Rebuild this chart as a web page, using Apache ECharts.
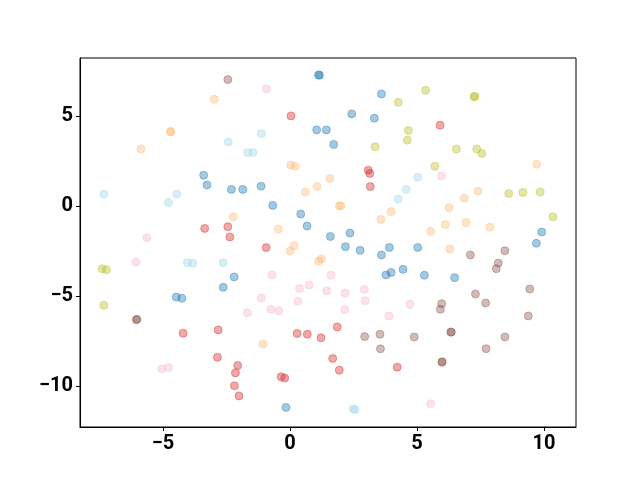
<!DOCTYPE html>
<html>
<head>
<meta charset="utf-8">
<script src="https://cdn.jsdelivr.net/npm/echarts@6/dist/echarts.min.js"></script>
<style>html,body{margin:0;padding:0;background:#fff}#c{width:640px;height:480px}</style>
</head>
<body>
<div id="c"></div>
<script>
const xTicks = [-5, 0, 5, 10];
const yTicks = [-10, -5, 0, 5];

const blue = [[-0.16,-11.2],[1.12,7.3],[1.16,7.28],[3.6,6.24],[2.43,5.13],[3.32,4.89],[1.05,4.24],[1.43,4.24],[1.72,3.43],
  [-3.40,1.72],[-3.27,1.18],[-2.31,0.93],[-1.86,0.93],[-1.14,1.11],[-0.68,0.04],[0.42,-0.44],[0.67,-1.11],[1.59,-1.69],
  [2.36,-1.5],[2.18,-2.26],[2.76,-2.46],[3.6,-2.72],[3.91,-2.30],[5.03,-2.30],[3.78,-3.83],[3.98,-3.69],[4.45,-3.52],
  [5.29,-3.85],[6.48,-3.98],[9.91,-1.44],[9.70,-2.07],[-2.20,-3.94],[-2.63,-4.52],[-4.48,-5.06],[-4.26,-5.13]];
const cyan = [[-2.43,3.57],[-1.67,2.98],[-1.46,2.98],[-1.13,4.02],[-4.46,0.67],[-4.79,0.2],[-7.33,0.67],[-4.04,-3.15],
  [-3.83,-3.18],[-2.63,-3.15],[4.58,0.93],[4.26,0.39],[5.03,1.61],[2.48,-11.28],[2.56,-11.33]];
const orange = [[-2.98,5.94],[-4.69,4.13],[-4.71,4.15],[-5.87,3.18],[-2.24,-0.59],[0.03,2.29],[0.21,2.21],[1.57,1.54],
  [1.06,1.09],[0.60,0.78],[1.94,0.02],[2.0,0.0],[-0.46,-1.28],[0.16,-2.2],[0.0,-2.5],[1.23,-2.94],[1.13,-3.06],
  [3.98,-0.30],[3.58,-0.74],[6.26,-0.09],[6.86,0.43],[7.40,0.83],[6.11,-1.02],[5.54,-1.41],[6.93,-0.91],[7.87,-1.18],
  [6.29,-2.39],[9.71,2.33],[-1.07,-7.68]];
const red = [[0.04,5.02],[3.08,2.0],[3.14,1.82],[3.16,1.09],[5.91,4.5],[-3.36,-1.24],[-2.45,-1.15],[-2.37,-1.72],
  [-0.94,-2.31],[-4.21,-7.07],[-2.83,-6.89],[-2.86,-8.41],[-2.06,-8.87],[-2.15,-9.28],[-2.19,-10.0],[-2.01,-10.56],
  [0.28,-7.09],[0.68,-7.13],[1.22,-7.33],[1.86,-6.72],[1.68,-8.48],[1.94,-9.13],[-0.35,-9.5],[-0.21,-9.57],[4.22,-8.96]];
const brown = [[-2.45,7.04],[-6.05,-6.32],[-6.03,-6.30],[2.94,-7.26],[3.54,-7.13],[3.56,-7.94],[4.89,-7.28],
  [5.97,-5.43],[5.92,-5.74],[6.33,-7.02],[6.35,-7.00],[5.98,-8.69],[5.99,-8.66],[7.72,-7.93],[8.46,-7.28],[9.38,-6.11],
  [7.70,-5.39],[7.30,-4.89],[9.44,-4.61],[7.10,-2.72],[8.46,-2.48],[8.20,-3.17],[8.12,-3.48]];
const pink = [[-0.93,6.52],[-5.64,-1.76],[-6.07,-3.13],[-0.71,-3.82],[1.61,-3.85],[0.37,-4.59],[0.75,-4.39],[1.44,-4.72],
  [2.17,-4.83],[2.93,-4.63],[2.96,-5.26],[-1.13,-5.11],[0.31,-5.30],[-0.75,-5.74],[-0.44,-5.82],[-1.68,-5.94],
  [2.15,-5.76],[3.89,-6.11],[4.72,-5.46],[-5.05,-9.06],[-4.79,-8.98],[5.54,-11.0],[5.96,1.67]];
const olive = [[4.26,5.78],[4.66,4.21],[4.62,3.67],[3.35,3.30],[5.34,6.44],[7.24,6.09],[7.28,6.10],[6.55,3.18],
  [7.35,3.18],[7.55,2.93],[5.70,2.22],[8.61,0.70],[9.17,0.76],[9.85,0.79],[10.35,-0.59],[-7.40,-3.48],[-7.23,-3.54],
  [-7.33,-5.52]];

const groups = [
  [blue, '31,119,180'],
  [orange, '255,187,120'],
  [red, '214,39,40'],
  [brown, '140,86,75'],
  [pink, '247,182,210'],
  [olive, '188,189,34'],
  [cyan, '158,218,229']
];

const fmt = v => v < 0 ? '\u2212' + Math.abs(v) : String(v);
const lab = {color:'#000', fontFamily:'Roboto', fontWeight:'bold', fontSize:20};

const chart = echarts.init(document.getElementById('c'), null, {renderer:'canvas'});
chart.setOption({
  animation:false,
  grid:{left:80, right:64, top:58, bottom:53, show:true, borderColor:'#000', borderWidth:1, backgroundColor:'transparent'},
  xAxis:{type:'value', min:-8.27, max:11.26,
    axisLine:{show:true, onZero:false, lineStyle:{color:'#000', width:1}},
    axisTick:{show:true, length:4, lineStyle:{color:'#000'}, customValues:xTicks},
    axisLabel:{...lab, margin:7, formatter:fmt, customValues:xTicks},
    splitLine:{show:false}},
  yAxis:{type:'value', min:-12.29, max:8.24,
    axisLine:{show:true, onZero:false, lineStyle:{color:'#000', width:1}},
    axisTick:{show:true, length:4, lineStyle:{color:'#000'}, customValues:yTicks},
    axisLabel:{...lab, margin:7, formatter:fmt, customValues:yTicks},
    splitLine:{show:false}},
  series: groups.map(([d,c]) => ({
    type:'scatter', data:d, symbolSize:8,
    itemStyle:{color:'rgba('+c+',0.4)', borderColor:'rgba('+c+',0.4)', borderWidth:1, opacity:1}
  }))
});
</script>
</body>
</html>
